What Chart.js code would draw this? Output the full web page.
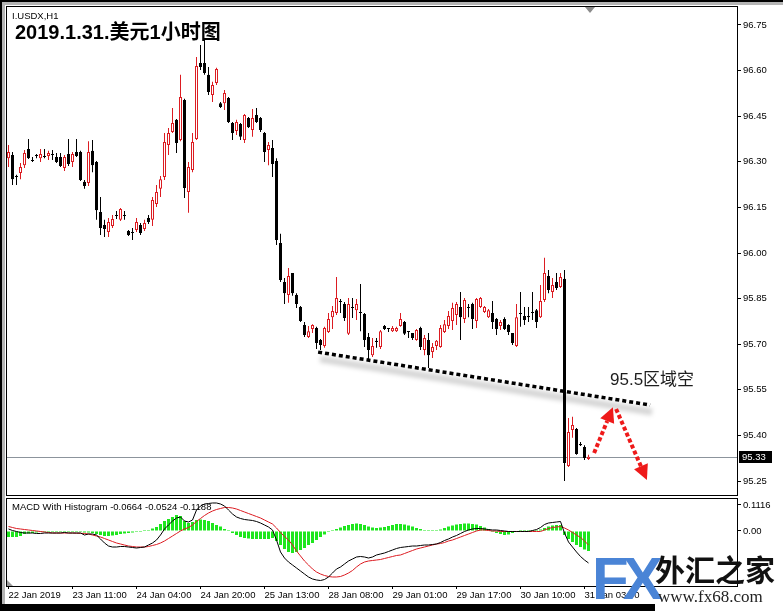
<!DOCTYPE html>
<html><head><meta charset="utf-8">
<script src="https://cdn.jsdelivr.net/npm/chart.js@4/dist/chart.umd.min.js"></script>
<style>
html,body{margin:0;padding:0;background:#fff;}
#wrap{position:relative;width:783px;height:611px;overflow:hidden;background:#fff;}
canvas{position:absolute;left:0;}
#c1{top:0;}
#c2{top:497px;}
.t{position:absolute;white-space:nowrap;font-family:"Liberation Sans","Noto Sans CJK SC",sans-serif;color:#000;}
.blk{position:absolute;background:#000;}
</style></head><body>
<div id="wrap">
<canvas id="c1" width="783" height="497"></canvas>
<canvas id="c2" width="783" height="114"></canvas>
<div class="blk" style="left:0;top:0;width:2px;height:611px;"></div>
<div class="blk" style="left:0;top:0;width:783px;height:2px;"></div>
<div style="position:absolute;left:2px;top:2px;width:3px;height:602px;background:#b4b4b4;"></div>
<div style="position:absolute;left:2px;top:2px;width:781px;height:3px;background:#b4b4b4;"></div>
<div class="blk" style="left:0;top:604px;width:655px;height:7px;"></div>
<div style="position:absolute;left:585px;top:7px;width:0;height:0;border-left:5px solid transparent;border-right:5px solid transparent;border-top:6px solid #8a8a8a;"></div>
<div style="position:absolute;left:7px;top:580px;width:0;height:0;border-right:6px solid transparent;border-bottom:6px solid #9a9a9a;"></div>
<div class="t" style="left:12px;top:11px;font-size:9.5px;line-height:10px;">I.USDX,H1</div>
<div class="t" style="left:15px;top:22px;font-size:20px;line-height:20px;font-weight:bold;">2019.1.31.美元1小时图</div>
<div class="t" style="left:610px;top:371px;font-size:17px;line-height:17px;color:#1e1e1e;">95.5区域空</div>
<div class="t" style="left:12px;top:502px;font-size:9.5px;line-height:10px;">MACD With Histogram -0.0664 -0.0524 -0.1188</div>
<div class="t" style="left:592px;top:549px;font-size:60px;line-height:60px;font-weight:bold;letter-spacing:-6px;color:#4a84d6;">FX</div>
<div class="t" style="left:655px;top:553px;font-size:30px;line-height:30px;font-weight:bold;font-family:'Noto Sans CJK SC',sans-serif;color:#111;">外汇之家</div>
<div class="t" style="left:658px;top:588px;font-size:17px;line-height:17px;font-family:'Liberation Serif',serif;color:#222;">www.fx68.com</div>
</div>
<script>
// ---------- DATA ----------
const timeTickIdx = [0,16,32,48,64,80,96,112,128,144];
const timeLabels = ["22 Jan 2019","23 Jan 11:00","24 Jan 04:00","24 Jan 20:00","25 Jan 13:00","28 Jan 08:00","29 Jan 01:00","29 Jan 17:00","30 Jan 10:00","31 Jan 03:00"];
const priceTicks = [96.75,96.60,96.45,96.30,96.15,96.00,95.85,95.70,95.55,95.40,95.25];
const macdTicks = [0.1116, 0];
const macdTickLabels = ["0.1116","0.00"];

const open = [
96.312,96.322,96.253,96.263,96.289,96.342,96.306,96.322,96.312,96.319,
96.319,96.326,96.316,96.316,96.280,96.326,96.299,96.332,96.332,96.234,
96.230,96.336,96.299,96.135,96.092,96.069,96.089,96.125,96.109,96.125,
96.072,96.069,96.076,96.092,96.079,96.115,96.109,96.161,96.211,96.250,
96.355,96.398,96.438,96.372,96.503,96.201,96.273,96.375,96.625,96.625,
96.586,96.520,96.559,96.493,96.493,96.510,96.428,96.401,96.424,96.372,
96.444,96.405,96.454,96.444,96.395,96.339,96.345,96.303,96.033,95.905,
95.862,95.934,95.862,95.822,95.763,95.724,95.750,95.753,95.714,95.694,
95.740,95.789,95.803,95.842,95.832,95.734,95.822,95.812,95.806,95.799,
95.724,95.664,95.711,95.691,95.760,95.753,95.743,95.743,95.760,95.773,
95.743,95.737,95.714,95.753,95.681,95.714,95.674,95.694,95.691,95.740,
95.760,95.776,95.796,95.822,95.783,95.822,95.832,95.776,95.822,95.806,
95.789,95.803,95.783,95.760,95.783,95.763,95.737,95.694,95.803,95.793,
95.793,95.806,95.812,95.789,95.845,95.924,95.872,95.905,95.888,95.915,
95.299,95.418,95.421,95.372,95.362,95.322];
const high = [
96.355,96.332,96.257,96.296,96.339,96.375,96.316,96.326,96.342,96.342,
96.336,96.339,96.329,96.329,96.322,96.375,96.332,96.375,96.336,96.240,
96.368,96.372,96.303,96.184,96.109,96.115,96.125,96.138,96.148,96.138,
96.076,96.082,96.115,96.099,96.109,96.125,96.184,96.224,96.253,96.395,
96.411,96.477,96.441,96.586,96.507,96.299,96.395,96.645,96.684,96.701,
96.612,96.563,96.609,96.497,96.536,96.513,96.431,96.438,96.428,96.457,
96.447,96.474,96.477,96.447,96.398,96.365,96.372,96.312,96.063,95.918,
95.951,95.934,95.868,95.826,95.773,95.760,95.766,95.757,95.717,95.757,
95.803,95.826,95.921,95.849,95.839,95.852,95.852,95.849,95.898,95.803,
95.737,95.720,95.720,95.747,95.763,95.753,95.760,95.757,95.803,95.776,
95.743,95.737,95.750,95.757,95.730,95.737,95.704,95.714,95.763,95.780,
95.809,95.836,95.839,95.872,95.852,95.832,95.836,95.852,95.855,95.826,
95.816,95.842,95.786,95.780,95.789,95.766,95.737,95.832,95.872,95.822,
95.822,95.872,95.816,95.895,95.984,95.944,95.918,95.934,95.934,95.944,
95.457,95.461,95.424,95.378,95.368,95.336];
const low = [
96.283,96.224,96.224,96.243,96.280,96.309,96.299,96.312,96.299,96.312,
96.306,96.306,96.296,96.283,96.270,96.286,96.283,96.316,96.237,96.211,
96.220,96.266,96.109,96.059,96.053,96.053,96.082,96.112,96.105,96.109,
96.056,96.043,96.069,96.059,96.072,96.095,96.089,96.151,96.184,96.240,
96.322,96.395,96.329,96.368,96.181,96.132,96.266,96.372,96.602,96.586,
96.520,96.497,96.553,96.477,96.470,96.428,96.372,96.388,96.372,96.362,
96.411,96.382,96.428,96.398,96.299,96.289,96.250,96.026,95.905,95.832,
95.836,95.859,95.819,95.773,95.724,95.720,95.737,95.684,95.681,95.688,
95.737,95.750,95.796,95.803,95.776,95.730,95.786,95.780,95.743,95.691,
95.648,95.658,95.688,95.684,95.747,95.740,95.740,95.740,95.757,95.730,
95.720,95.714,95.711,95.681,95.664,95.622,95.655,95.681,95.688,95.737,
95.750,95.747,95.763,95.714,95.770,95.789,95.750,95.753,95.819,95.803,
95.786,95.750,95.730,95.747,95.747,95.730,95.697,95.691,95.757,95.763,
95.773,95.780,95.753,95.786,95.839,95.868,95.852,95.878,95.885,95.250,
95.296,95.392,95.336,95.365,95.319,95.319];
const close = [
96.332,96.243,96.250,96.283,96.329,96.312,96.303,96.319,96.326,96.316,
96.329,96.322,96.299,96.286,96.316,96.293,96.326,96.319,96.240,96.220,
96.332,96.289,96.141,96.082,96.079,96.102,96.112,96.122,96.145,96.122,
96.059,96.066,96.102,96.066,96.099,96.102,96.174,96.201,96.243,96.365,
96.395,96.428,96.362,96.513,96.214,96.283,96.365,96.615,96.612,96.592,
96.530,96.553,96.605,96.480,96.526,96.431,96.395,96.431,96.382,96.454,
96.414,96.444,96.431,96.405,96.332,96.355,96.293,96.043,95.911,95.868,
95.924,95.868,95.832,95.776,95.730,95.743,95.763,95.704,95.697,95.753,
95.783,95.809,95.852,95.839,95.786,95.832,95.819,95.832,95.803,95.714,
95.681,95.694,95.707,95.743,95.750,95.750,95.753,95.753,95.783,95.734,
95.740,95.720,95.747,95.691,95.720,95.664,95.691,95.711,95.753,95.766,
95.793,95.819,95.832,95.789,95.845,95.819,95.783,95.849,95.852,95.822,
95.812,95.773,95.750,95.773,95.750,95.740,95.704,95.789,95.799,95.780,
95.789,95.803,95.773,95.842,95.934,95.878,95.895,95.885,95.921,95.309,
95.411,95.434,95.339,95.368,95.326,95.330];

const macdLine = [
0.0086,0.0021,-0.0021,-0.0064,-0.0086,-0.0086,-0.0086,-0.0107,-0.0107,-0.0086,
-0.0086,-0.0086,-0.0086,-0.0086,-0.0064,-0.0086,-0.0086,-0.0086,-0.0086,-0.0172,
-0.0129,-0.0129,-0.0172,-0.0343,-0.0515,-0.0644,-0.0687,-0.0687,-0.0665,-0.0665,
-0.0687,-0.0708,-0.0730,-0.0708,-0.0687,-0.0601,-0.0515,-0.0386,-0.0172,0.0086,
0.0258,0.0429,0.0558,0.0601,0.0429,0.0386,0.0472,0.0901,0.1073,0.1159,
0.1180,0.1202,0.1202,0.1159,0.1073,0.0901,0.0730,0.0601,0.0537,0.0494,
0.0472,0.0451,0.0408,0.0343,0.0258,0.0172,0.0043,-0.0386,-0.0901,-0.1159,
-0.1331,-0.1459,-0.1588,-0.1717,-0.1846,-0.1974,-0.2060,-0.2103,-0.2125,-0.2082,
-0.1974,-0.1803,-0.1631,-0.1545,-0.1416,-0.1288,-0.1202,-0.1116,-0.1094,-0.1116,
-0.1159,-0.1116,-0.1030,-0.0987,-0.0944,-0.0880,-0.0815,-0.0751,-0.0708,-0.0687,
-0.0665,-0.0644,-0.0644,-0.0622,-0.0601,-0.0601,-0.0579,-0.0558,-0.0494,-0.0408,
-0.0343,-0.0258,-0.0193,-0.0107,-0.0021,0.0043,0.0086,0.0107,0.0107,0.0086,
0.0064,0.0043,0.0043,0.0021,0.0000,-0.0021,-0.0021,-0.0021,-0.0021,-0.0021,
-0.0021,0.0021,0.0064,0.0150,0.0279,0.0343,0.0365,0.0386,0.0408,-0.0086,
-0.0472,-0.0687,-0.0901,-0.1094,-0.1245,-0.1373];
const signalLine = [
0.0193,0.0150,0.0107,0.0086,0.0064,0.0043,0.0021,0.0000,-0.0021,-0.0043,
-0.0064,-0.0086,-0.0086,-0.0086,-0.0086,-0.0086,-0.0086,-0.0094,-0.0099,-0.0107,
-0.0129,-0.0172,-0.0215,-0.0258,-0.0322,-0.0386,-0.0451,-0.0515,-0.0558,-0.0601,
-0.0644,-0.0665,-0.0687,-0.0687,-0.0687,-0.0665,-0.0622,-0.0579,-0.0515,-0.0429,
-0.0322,-0.0215,-0.0107,0.0000,0.0086,0.0150,0.0258,0.0408,0.0537,0.0665,
0.0773,0.0858,0.0923,0.0966,0.1009,0.1009,0.0987,0.0944,0.0880,0.0815,
0.0751,0.0687,0.0622,0.0558,0.0472,0.0386,0.0300,0.0129,-0.0064,-0.0236,
-0.0386,-0.0601,-0.0858,-0.1073,-0.1288,-0.1459,-0.1631,-0.1760,-0.1846,-0.1910,
-0.1953,-0.1974,-0.1974,-0.1953,-0.1888,-0.1803,-0.1695,-0.1545,-0.1416,-0.1331,
-0.1288,-0.1266,-0.1245,-0.1223,-0.1180,-0.1137,-0.1094,-0.1052,-0.1030,-0.0966,
-0.0901,-0.0837,-0.0773,-0.0730,-0.0687,-0.0644,-0.0601,-0.0558,-0.0537,-0.0494,
-0.0429,-0.0386,-0.0322,-0.0258,-0.0193,-0.0129,-0.0064,0.0000,0.0043,0.0043,
0.0021,0.0000,0.0000,-0.0021,-0.0021,-0.0021,-0.0021,-0.0021,-0.0021,-0.0021,
-0.0021,-0.0021,-0.0021,-0.0021,0.0043,0.0107,0.0150,0.0172,0.0193,0.0129,
0.0043,-0.0064,-0.0172,-0.0279,-0.0429,-0.0601];
const histogram = [
-0.0258,-0.0258,-0.0258,-0.0215,-0.0129,-0.0107,-0.0086,-0.0064,-0.0043,-0.0021,
-0.0021,-0.0013,-0.0013,-0.0013,-0.0013,-0.0013,-0.0013,-0.0013,-0.0043,-0.0064,
-0.0064,-0.0086,-0.0129,-0.0172,-0.0215,-0.0215,-0.0193,-0.0172,-0.0129,-0.0107,
-0.0086,-0.0064,-0.0043,-0.0021,0.0013,0.0043,0.0107,0.0172,0.0300,0.0429,
0.0515,0.0601,0.0687,0.0644,0.0429,0.0343,0.0386,0.0472,0.0494,0.0472,
0.0429,0.0343,0.0258,0.0193,0.0086,0.0021,-0.0086,-0.0172,-0.0258,-0.0300,
-0.0322,-0.0343,-0.0343,-0.0343,-0.0343,-0.0343,-0.0300,-0.0429,-0.0601,-0.0773,
-0.0901,-0.0944,-0.0901,-0.0815,-0.0730,-0.0601,-0.0515,-0.0386,-0.0258,-0.0150,
-0.0043,0.0043,0.0086,0.0150,0.0215,0.0258,0.0300,0.0322,0.0300,0.0258,
0.0193,0.0150,0.0129,0.0150,0.0172,0.0215,0.0258,0.0300,0.0300,0.0279,
0.0236,0.0193,0.0129,0.0086,0.0043,0.0021,0.0021,0.0021,0.0064,0.0129,
0.0193,0.0236,0.0279,0.0300,0.0322,0.0322,0.0300,0.0279,0.0215,0.0150,
0.0086,-0.0043,-0.0086,-0.0129,-0.0172,-0.0150,-0.0086,-0.0043,0.0008,0.0008,
0.0008,0.0021,0.0043,0.0064,0.0129,0.0193,0.0236,0.0258,0.0258,-0.0172,
-0.0343,-0.0472,-0.0601,-0.0687,-0.0794,-0.0858];

// annotation anchors in data units [bar index, price]
const trendLine = [[77.4, 95.674], [160.4, 95.50]];
const arrowUp = [[146.4, 95.342], [151.1, 95.493]];
const arrowDown = [[151.9, 95.487], [159.6, 95.253]];

// ---------- SETUP ----------
const RED = '#dc1c22';
const X_MIN = -0.375, X_MAX = 182.125;
const P_MIN = 95.20395, P_MAX = 96.80921;
const M_MIN = -0.23608, M_MAX = 0.13735;
const idx = open.map((_, i) => i);
const isUp = idx.map(i => close[i] > open[i]);
const lastClose = close[close.length - 1];

Chart.defaults.font.family = '"Liberation Sans", sans-serif';
Chart.defaults.font.size = 9.5;
Chart.defaults.color = '#000';

const framePlugin = {
  id: 'frame',
  afterDraw(chart) {
    const {ctx, chartArea: a} = chart;
    ctx.save();
    ctx.strokeStyle = '#000'; ctx.lineWidth = 1;
    ctx.strokeRect(a.left - 0.5, a.top - 0.5, a.right - a.left + 1, a.bottom - a.top + 1);
    ctx.restore();
  }
};

function drawArrow(ctx, s, t) {
  const dx = t[0] - s[0], dy = t[1] - s[1], L = Math.hypot(dx, dy);
  const ux = dx / L, uy = dy / L, hl = 15, hw = 7.5;
  const bx = t[0] - ux * hl, by = t[1] - uy * hl;
  ctx.save();
  ctx.strokeStyle = '#ee1a1a'; ctx.fillStyle = '#ee1a1a';
  ctx.lineWidth = 4; ctx.setLineDash([4, 2.5]);
  ctx.beginPath(); ctx.moveTo(s[0], s[1]); ctx.lineTo(bx, by); ctx.stroke();
  ctx.setLineDash([]);
  ctx.beginPath();
  ctx.moveTo(t[0], t[1]);
  ctx.lineTo(bx - uy * hw, by + ux * hw);
  ctx.lineTo(bx + uy * hw, by - ux * hw);
  ctx.closePath(); ctx.fill();
  ctx.restore();
}

const mainDeco = {
  id: 'mainDeco',
  beforeDatasetsDraw(chart) {
    const {ctx, chartArea: a, scales: {y}} = chart;
    const yb = Math.round(y.getPixelForValue(lastClose)) + 0.5;
    ctx.save();
    ctx.strokeStyle = '#8c949c'; ctx.lineWidth = 1;
    ctx.beginPath(); ctx.moveTo(a.left, yb); ctx.lineTo(a.right, yb); ctx.stroke();
    ctx.restore();
  },
  afterDatasetsDraw(chart) {
    const {ctx, scales: {x, y}} = chart;
    const P = p => [x.getPixelForValue(p[0]), y.getPixelForValue(p[1])];
    const s = P(trendLine[0]), e = P(trendLine[1]);
    ctx.save();
    ctx.filter = 'blur(2px)';
    ctx.strokeStyle = 'rgba(0,0,0,0.16)'; ctx.lineWidth = 7;
    ctx.beginPath(); ctx.moveTo(s[0] + 2, s[1] + 7); ctx.lineTo(e[0] + 2, e[1] + 7); ctx.stroke();
    ctx.restore();
    ctx.save();
    ctx.strokeStyle = '#000'; ctx.lineWidth = 3.5; ctx.setLineDash([4, 3]);
    ctx.beginPath(); ctx.moveTo(s[0], s[1]); ctx.lineTo(e[0], e[1]); ctx.stroke();
    ctx.restore();
    drawArrow(ctx, P(arrowUp[0]), P(arrowUp[1]));
    drawArrow(ctx, P(arrowDown[0]), P(arrowDown[1]));
  },
  afterDraw(chart) {
    const {ctx, chartArea: a, scales: {y}} = chart;
    const yv = Math.round(y.getPixelForValue(lastClose));
    ctx.save();
    ctx.fillStyle = '#000';
    ctx.fillRect(a.right + 2, yv - 6, 33, 12);
    ctx.fillStyle = '#fff';
    ctx.font = '9.5px "Liberation Sans", sans-serif';
    ctx.textBaseline = 'middle';
    ctx.fillText(lastClose.toFixed(2), a.right + 5, yv + 0.5);
    ctx.restore();
  }
};

const common = {
  responsive: false, animation: false, events: [],
  plugins: {legend: {display: false}, tooltip: {enabled: false}}
};

new Chart(document.getElementById('c1'), {
  type: 'bar',
  data: {datasets: [
    {label: 'body', order: 1,
     data: idx.map(i => ({x: i, y: [Math.min(open[i], close[i]), Math.max(open[i], close[i])]})),
     backgroundColor: idx.map(i => isUp[i] ? '#ffffff' : '#000000'),
     borderColor: idx.map(i => isUp[i] ? RED : '#000000'),
     borderWidth: 1, borderSkipped: false, barThickness: 3, grouped: false, minBarLength: 1, inflateAmount: 0},
    {label: 'wick', order: 2,
     data: idx.map(i => ({x: i, y: [low[i], high[i]]})),
     backgroundColor: idx.map(i => isUp[i] ? RED : '#000000'),
     borderWidth: 0, barThickness: 1, grouped: false, inflateAmount: 0}
  ]},
  options: {...common,
    layout: {padding: {left: 7, right: 0, top: 7, bottom: 2}},
    scales: {
      x: {type: 'linear', display: false, min: X_MIN, max: X_MAX, offset: false, grid: {offset: false}},
      y: {type: 'linear', position: 'right', min: P_MIN, max: P_MAX,
          afterBuildTicks: s => { s.ticks = priceTicks.map(v => ({value: v})); },
          afterFit: s => { s.width = 46; s.paddingTop = 0; s.paddingBottom = 0; },
          ticks: {callback: v => v.toFixed(2), padding: 2, color: '#000'},
          grid: {drawOnChartArea: false, drawTicks: true, tickLength: 4, color: '#000'},
          border: {display: false}}
    }
  },
  plugins: [framePlugin, mainDeco]
});

new Chart(document.getElementById('c2'), {
  type: 'bar',
  data: {datasets: [
    {type: 'line', label: 'MACD', order: 1, data: idx.map(i => ({x: i, y: macdLine[i]})),
     borderColor: '#000', borderWidth: 1, pointRadius: 0, tension: 0},
    {type: 'line', label: 'Signal', order: 1, data: idx.map(i => ({x: i, y: signalLine[i]})),
     borderColor: RED, borderWidth: 1, pointRadius: 0, tension: 0},
    {type: 'bar', label: 'Hist', order: 2, data: idx.map(i => ({x: i, y: histogram[i]})),
     backgroundColor: '#1ee61e', barThickness: 3, grouped: false, minBarLength: 1, inflateAmount: 0, borderWidth: 0}
  ]},
  options: {...common,
    layout: {padding: {left: 7, right: 0, top: 2, bottom: 0}},
    scales: {
      x: {type: 'linear', min: X_MIN, max: X_MAX, offset: false,
          afterBuildTicks: s => { s.ticks = timeTickIdx.map(v => ({value: v})); },
          afterFit: s => { s.height = 25; s.paddingLeft = 0; s.paddingRight = 0; },
          ticks: {autoSkip: false, maxRotation: 0, minRotation: 0, align: 'start', padding: 1,
                  callback: (v, i) => timeLabels[i], color: '#000'},
          grid: {drawOnChartArea: false, drawTicks: true, tickLength: 3, color: '#000', offset: false},
          border: {display: false}},
      y: {type: 'linear', position: 'right', min: M_MIN, max: M_MAX,
          afterBuildTicks: s => { s.ticks = macdTicks.map(v => ({value: v})); },
          afterFit: s => { s.width = 46; s.paddingTop = 0; s.paddingBottom = 0; },
          ticks: {callback: (v, i) => macdTickLabels[i], padding: 2, color: '#000'},
          grid: {drawOnChartArea: false, drawTicks: true, tickLength: 4, color: '#000'},
          border: {display: false}}
    }
  },
  plugins: [framePlugin]
});
</script>
</body></html>
